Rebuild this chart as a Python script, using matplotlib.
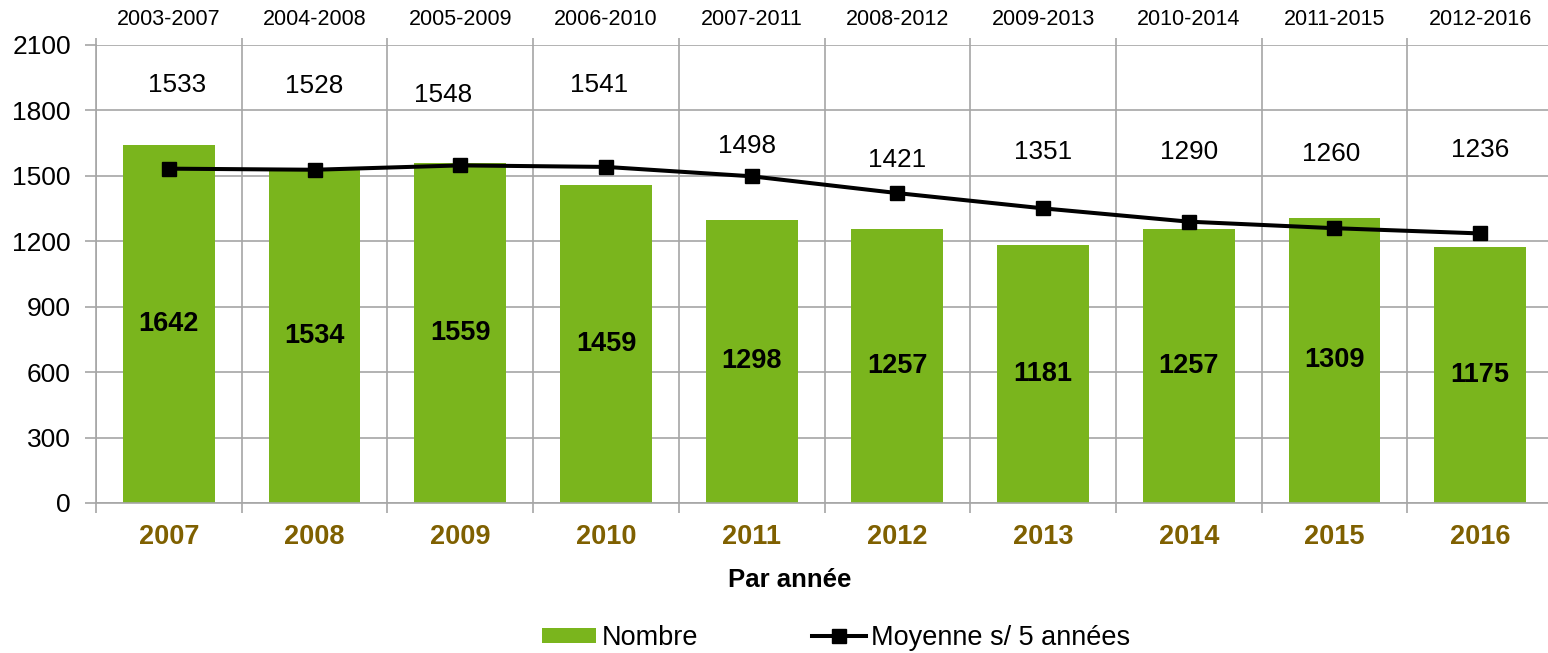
import matplotlib
matplotlib.use("Agg")
import matplotlib.pyplot as plt
import numpy as np

plt.rcParams["font.family"] = ["Liberation Sans", "DejaVu Sans"]

# data
years = ["2007", "2008", "2009", "2010", "2011", "2012", "2013", "2014", "2015", "2016"]
periods = ["2003-2007", "2004-2008", "2005-2009", "2006-2010", "2007-2011",
           "2008-2012", "2009-2013", "2010-2014", "2011-2015", "2012-2016"]
nombre = [1642, 1534, 1559, 1459, 1298, 1257, 1181, 1257, 1309, 1175]
moyenne = [1533, 1528, 1548, 1541, 1498, 1421, 1351, 1290, 1260, 1236]

# label placement for the average values (moved by hand in the original)
avg_label_y = [1916, 1912, 1871, 1916, 1637, 1573, 1609, 1609, 1600, 1618]
avg_label_dx = [0.055, 0.0, -0.115, -0.05, -0.03, 0.0, 0.0, 0.0, -0.02, 0.0]

GREEN = "#7AB51D"
BROWN = "#7F6000"
GRID = "#A6A6A6"

x = np.arange(len(years))

fig = plt.figure(figsize=(15.48, 6.53), dpi=100)
ax = fig.add_axes([96 / 1548, 1 - 503 / 653, 1457 / 1548, 458 / 653])

bars = ax.bar(x, nombre, width=0.63, color=GREEN, zorder=2, label="Nombre")
line, = ax.plot(x, moyenne, color="black", lw=2.9, marker="s", ms=10.5,
                zorder=3, label="Moyenne s/ 5 années")

for xi, v in zip(x, nombre):
    ax.text(xi, v / 2, str(v), ha="center", va="center",
            fontsize=19.5, fontweight="bold", zorder=4)
for xi, v, ly, dx in zip(x, moyenne, avg_label_y, avg_label_dx):
    ax.text(xi + dx, ly, str(v), ha="center", va="center", fontsize=18.8, zorder=4)

ax.set_xlim(-0.5, len(years) - 0.5)
ax.set_ylim(0, 2100)
ax.set_yticks(np.arange(0, 2101, 300))
ax.tick_params(axis="y", length=8, color=GRID, width=1.2, labelsize=19, pad=10)

ax.set_xticks(x)
ax.set_xticklabels(years)
ax.set_xticks(np.arange(-0.5, len(years)), minor=True)
ax.tick_params(axis="x", which="major", length=0, pad=15, labelsize=19.5, labelcolor=BROWN)
for lbl in ax.get_xticklabels():
    lbl.set_fontweight("bold")
ax.tick_params(axis="x", which="minor", length=7, color=GRID, width=1.2)

ax.grid(axis="y", which="major", color=GRID, lw=1.2, zorder=0)
ax.grid(axis="x", which="minor", color=GRID, lw=1.2, zorder=0)
ax.set_axisbelow(True)

for s in ["top", "right"]:
    ax.spines[s].set_visible(False)
for s in ["left", "bottom"]:
    ax.spines[s].set_color(GRID)
    ax.spines[s].set_linewidth(1.2)

# period labels along the top
top = ax.secondary_xaxis("top")
top.set_xticks(x)
top.set_xticklabels(periods)
top.set_xticks(np.arange(-0.5, len(years)), minor=True)
top.tick_params(axis="x", which="major", length=0, pad=11, labelsize=15.5)
top.tick_params(axis="x", which="minor", length=5, color=GRID, width=1.2)
top.spines["top"].set_visible(False)

fig.text(790 / 1548, 1 - 580 / 653, "Par année", ha="center", va="center",
         fontsize=18.5, fontweight="bold")

fig.legend(handles=[bars, line], loc="center", bbox_to_anchor=(836 / 1548, 1 - 638 / 653),
           ncol=2, frameon=False, fontsize=19.5, handlelength=2.0, handleheight=0.5,
           handletextpad=0.2, columnspacing=4.2)

fig.savefig("out.png", dpi=100)
